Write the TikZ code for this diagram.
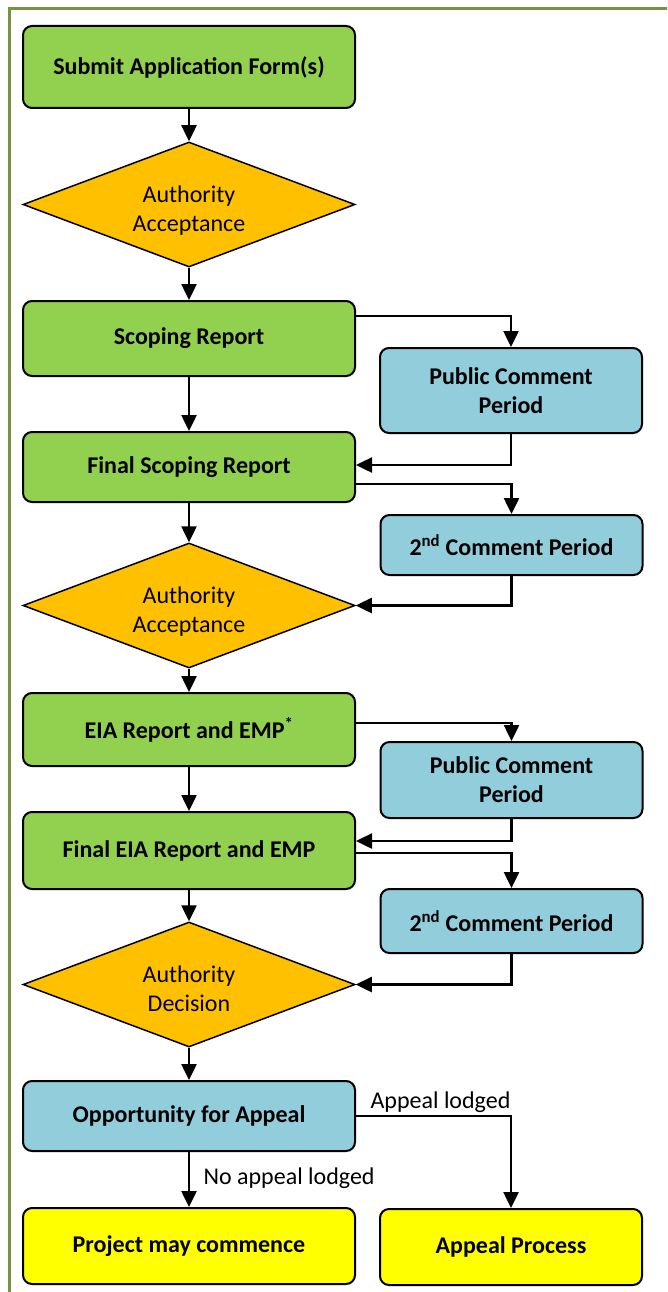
\documentclass[tikz,border=0pt]{standalone}
\usepackage[dvipsnames,svgnames]{xcolor}
\usepackage{fontspec}
\setmainfont{Carlito}
\usetikzlibrary{shapes.geometric,arrows.meta}
\definecolor{boxgreen}{HTML}{92D050}
\definecolor{boxblue}{HTML}{92CDDC}
\definecolor{boxorange}{HTML}{FFC000}
\definecolor{boxyellow}{HTML}{FFFF00}
\definecolor{framegreen}{HTML}{77933C}

\begin{document}
\begin{tikzpicture}[x=1pt,y=-1pt,
  box/.style={draw,line width=2pt,rounded corners=9pt,minimum width=332pt,inner sep=0pt,
    align=center,font=\fontsize{24}{29}\selectfont\bfseries},
  sidebox/.style={box,minimum width=262pt},
  choice/.style={diamond,draw,line width=1.5pt,fill=boxorange,aspect=2.66,inner sep=0pt,
    minimum width=332pt,minimum height=125pt,text height=59pt,text depth=5pt,align=center,
    font=\fontsize{24}{29}\selectfont},
  flow/.style={line width=2.5pt,-{Triangle[width=15pt,length=16pt]}},
  note/.style={font=\fontsize{24}{29}\selectfont}]
  \useasboundingbox (0,0) rectangle (667,1292);
  \clip (0,0) rectangle (667,1292);
  \draw[framegreen,line width=3pt] (9,9) rectangle (720,1340);

  \node[box,fill=boxgreen,minimum height=82pt] (submit) at (189,67) {Submit Application Form(s)};
  \node[choice] (accept) at (189,204.5) {Authority\\Acceptance};
  \node[box,fill=boxgreen,minimum height=75pt] (scoping) at (189,338.5) {Scoping Report};
  \node[sidebox,fill=boxblue,minimum height=85pt] (comment) at (511,390.5) {Public Comment\\Period};
  \node[box,fill=boxgreen,minimum height=70pt] (fscoping) at (189,467) {Final Scoping Report};
  \node[sidebox,fill=boxblue,minimum height=60pt] (second) at (511.5,545) {2\textsuperscript{nd} Comment Period};
  \node[choice] (accepttwo) at (189,605.5) {Authority\\Acceptance};
  \node[box,fill=boxgreen,minimum height=73pt] (eia) at (189,729.5) {EIA Report and EMP\textsuperscript{*}};
  \node[sidebox,fill=boxblue,minimum height=76pt] (commenttwo) at (511.5,780) {Public Comment\\Period};
  \node[box,fill=boxgreen,minimum height=77pt] (feia) at (189,850.5) {Final EIA Report and EMP};
  \node[sidebox,fill=boxblue,minimum height=64pt] (secondtwo) at (511.5,921) {2\textsuperscript{nd} Comment Period};
  \node[choice] (decide) at (189,984.5) {Authority\\Decision};
  \node[box,fill=boxblue,minimum height=70pt] (appeal) at (189,1116) {Opportunity for Appeal};
  \node[box,fill=boxyellow,minimum height=76pt] (start) at (189,1246) {Project may commence};
  \node[sidebox,fill=boxyellow,minimum height=76pt] (process) at (511,1247) {Appeal Process};

  \draw[flow] (submit) -- (accept);
  \draw[flow] (accept) -- (scoping);
  \draw[flow] ([yshift=22.5pt]scoping.east) -| (comment);
  \draw[flow] (scoping) -- (fscoping);
  \draw[flow] (comment) |- ([yshift=2pt]fscoping.east);
  \draw[flow] ([yshift=-17pt]fscoping.east) -| (second);
  \draw[flow] (fscoping) -- (accepttwo);
  \draw[flow] (second) |- (accepttwo);
  \draw[flow] (accepttwo) -- (eia);
  \draw[flow] ([yshift=6.5pt]eia.east) -| (commenttwo);
  \draw[flow] (eia) -- (feia);
  \draw[flow] (commenttwo) |- ([yshift=9.5pt]feia.east);
  \draw[flow] ([yshift=-2.5pt]feia.east) -| (secondtwo);
  \draw[flow] (feia) -- (decide);
  \draw[flow] (secondtwo) |- (decide);
  \draw[flow] (decide) -- (appeal);
  \draw[flow] (appeal) -| (process);
  \draw[flow] (appeal) -- (start);
  \node[note,anchor=base west] (lodged) at ([xshift=11pt,yshift=8pt]appeal.east) {Appeal lodged};
  \node[note,anchor=base west] (nolodged) at ([xshift=11pt,yshift=-32pt]appeal.south) {No appeal lodged};
\end{tikzpicture}
\end{document}
